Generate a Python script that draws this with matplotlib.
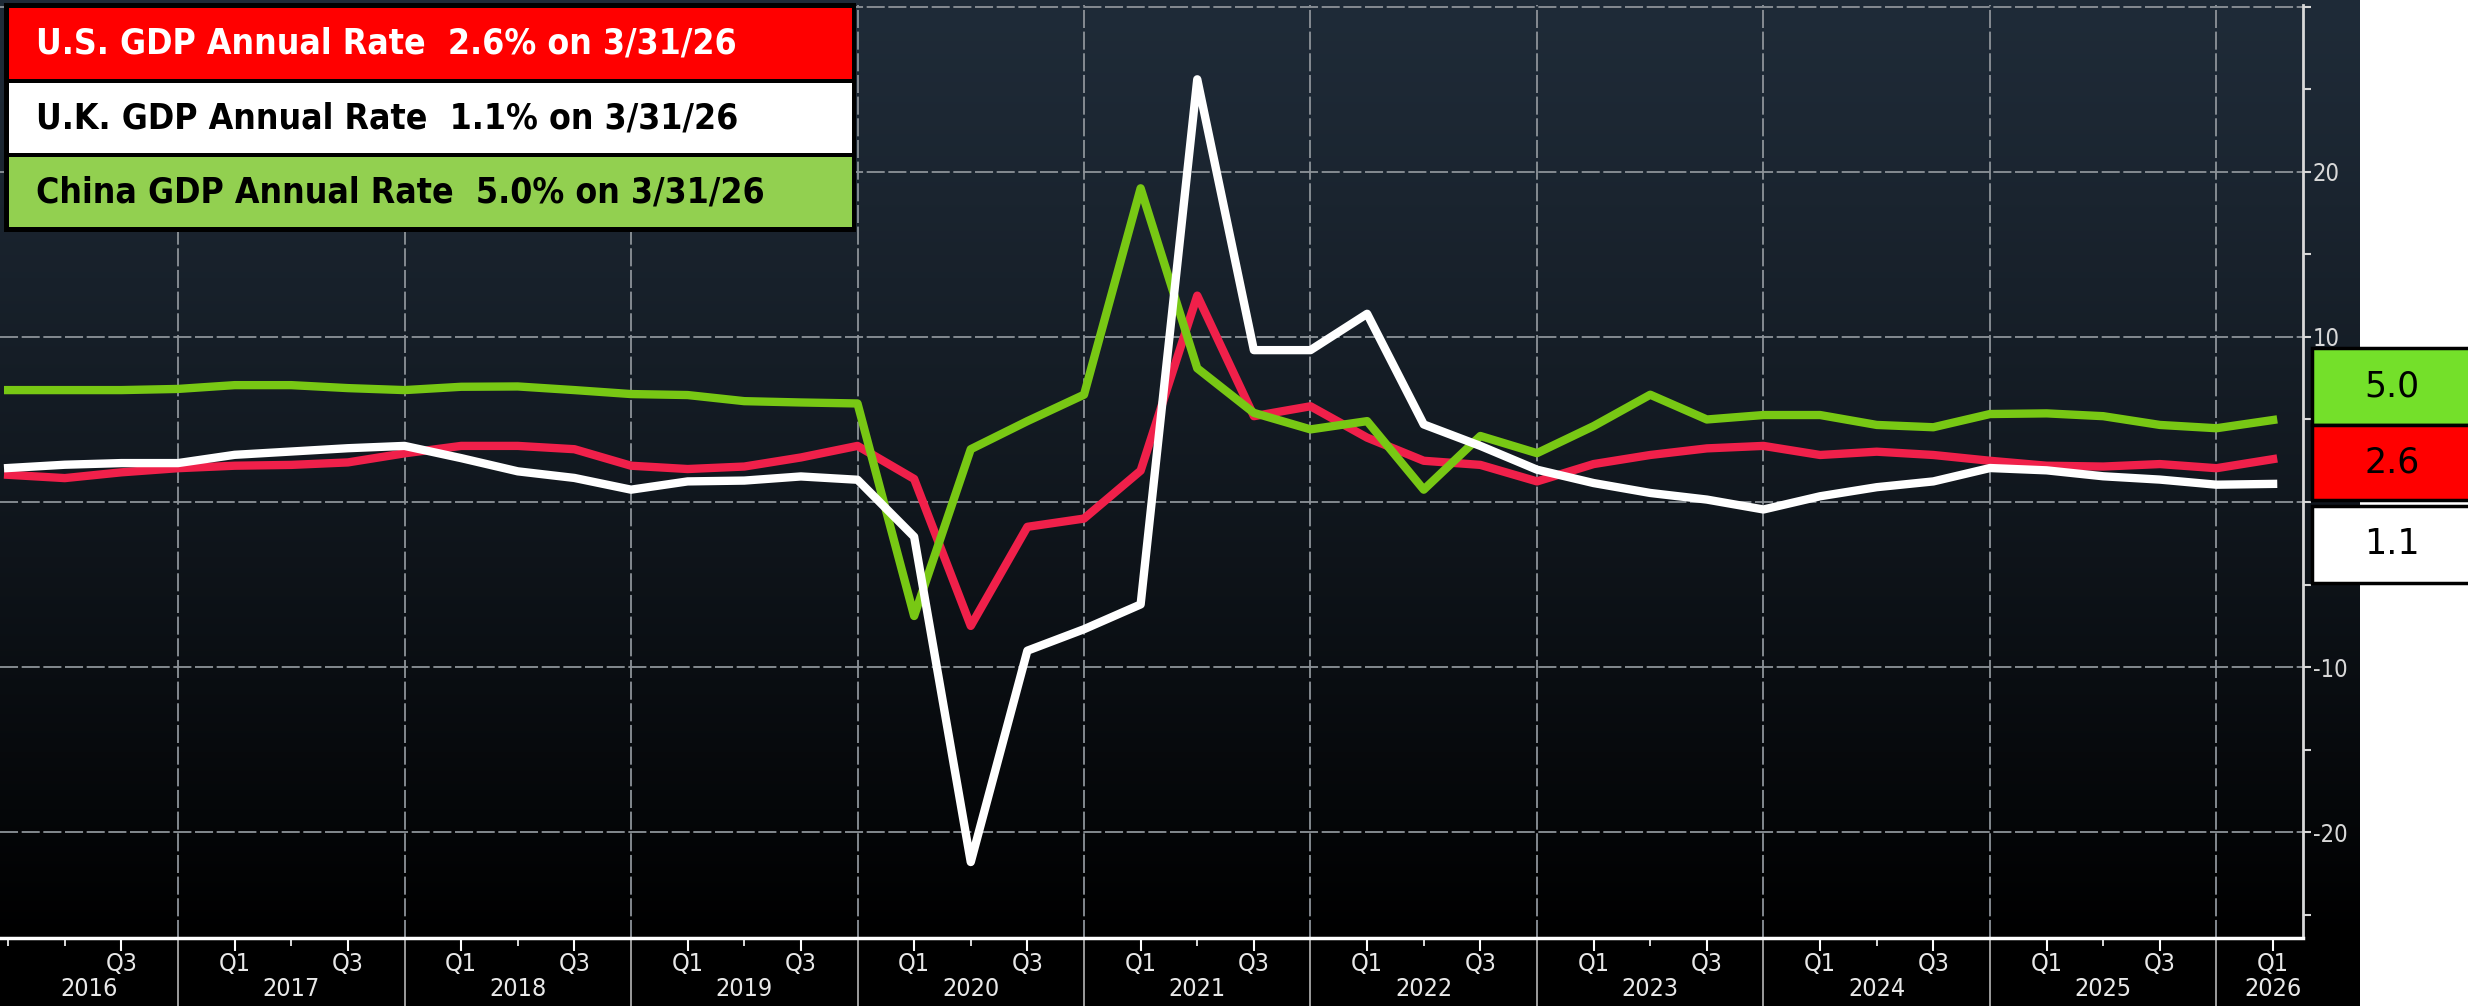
import matplotlib.pyplot as plt
import matplotlib.transforms as mtransforms
import numpy as np
from matplotlib import font_manager
from matplotlib.patches import Rectangle

# GDP, annual rate (%), quarterly from 2016 Q1 to 2026 Q1
years = list(range(2016, 2027))
quarters = [(y, q) for y in years for q in (1, 2, 3, 4)][:41]

us_gdp = [1.65, 1.45, 1.8, 2.05,
          2.2, 2.25, 2.4, 2.95,
          3.4, 3.4, 3.2, 2.2,
          2.0, 2.15, 2.7, 3.4,
          1.4, -7.5, -1.5, -1.0,
          1.9, 12.5, 5.2, 5.8,
          3.9, 2.5, 2.25, 1.25,
          2.3, 2.85, 3.25, 3.4,
          2.85, 3.05, 2.85, 2.5,
          2.2, 2.15, 2.3, 2.05,
          2.6]
uk_gdp = [2.06, 2.26, 2.36, 2.36,
          2.86, 3.06, 3.26, 3.4,
          2.66, 1.86, 1.46, 0.75,
          1.25, 1.3, 1.55, 1.35,
          -2.1, -21.8, -9.0, -7.7,
          -6.2, 25.6, 9.2, 9.2,
          11.4, 4.7, 3.4, 1.96,
          1.15, 0.55, 0.15, -0.45,
          0.35, 0.9, 1.25, 2.06,
          1.92, 1.56, 1.36, 1.05,
          1.1]
china_gdp = [6.78, 6.78, 6.78, 6.85,
             7.08, 7.08, 6.9, 6.78,
             6.98, 7.0, 6.78, 6.54,
             6.48, 6.11, 6.03, 5.97,
             -6.9, 3.2, 4.9, 6.5,
             19.0, 8.1, 5.4, 4.4,
             4.9, 0.75, 4.0, 2.96,
             4.6, 6.5, 5.0, 5.27,
             5.27, 4.67, 4.53, 5.33,
             5.37, 5.2, 4.67, 4.47,
             4.97]
as_of = "3/31/26"
y_ticks = [-20, -10, 0, 10, 20, 30]
y_tick_labels = ["-20", "-10", "", "10", "20", ""]

RED = "#f0204a"
GREEN = "#78c814"
plt.rcParams["axes.unicode_minus"] = False

# use the condensed DejaVu cut if the system has it
cond_path = font_manager.findfont(font_manager.FontProperties(
    family="DejaVu Sans", stretch="condensed", weight="bold"))
has_cond = "Condensed" in cond_path
legend_size = 25.5 if has_cond else 23
STRETCH = "condensed"

W, H = 2468, 1006


def fx(px):
    return px / W


def fy(py):
    return 1 - py / H


fig = plt.figure(figsize=(W / 100, H / 100), dpi=100)
fig.patch.set_facecolor("white")

# dark gradient background, black strip under the plot
bg = fig.add_axes([0, 0, fx(2360), 1])
t = np.linspace(0, 1, 938) ** 1.2
top = np.array([0x1f, 0x2b, 0x38]) / 255
grad = (1 - t)[:, None] * top[None, :]
img = np.vstack([grad, np.zeros((H - 938, 3))])[:, None, :]
bg.imshow(img, aspect="auto", extent=[0, 1, 0, 1])
bg.axis("off")

ax = fig.add_axes([0, fy(938), fx(2303), fy(5) - fy(938)])
ax.set_facecolor("none")

x = [y + q / 4 for (y, q) in quarters]
ax.plot(x, us_gdp, color=RED, lw=6, zorder=3)
ax.plot(x, china_gdp, color=GREEN, lw=6, zorder=4)
ax.plot(x, uk_gdp, color="white", lw=6, zorder=5)

ax.set_xlim(2016.214, 2026.382)
ax.set_ylim(-26.4, 30.1)

for s in ("left", "top"):
    ax.spines[s].set_visible(False)
ax.spines["right"].set_color("#d8d8d8")
ax.spines["right"].set_linewidth(2)
ax.spines["bottom"].set_color("white")
ax.spines["bottom"].set_linewidth(2.5)

# right-hand value axis
ax.yaxis.tick_right()
ax.set_yticks(y_ticks)
ax.set_yticklabels(y_tick_labels)
ax.set_yticks(np.arange(-25, 31, 5), minor=True)
ax.tick_params(axis="y", which="both", direction="out", length=6, width=1.5,
               color="#d8d8d8", labelcolor="#d8d8d8", labelsize=17, pad=1)
for lab in ax.get_yticklabels():
    lab.set_fontstretch(STRETCH)
ax.grid(True, axis="y", color="#8d9399", lw=1.3, linestyle=(0, (10, 2)))

# quarter ticks, Q1/Q3 labelled
q_major = []
q_labels = []
for y in years:
    for q in (1, 3):
        pos = y + q / 4
        if 2016.5 < pos < 2026.38:
            q_major.append(pos)
            q_labels.append(f"Q{q}")
q_minor = [y + 0.5 for y in years if y + 0.5 < 2026.38] + [2016.25]
ax.set_xticks(q_major)
ax.set_xticklabels(q_labels)
ax.set_xticks(q_minor, minor=True)
ax.tick_params(axis="x", which="major", direction="out", length=9, width=1.5,
               color="white", labelcolor="#e8e8e8", labelsize=18, pad=1)
ax.tick_params(axis="x", which="minor", direction="out", length=6, width=1.2,
               color="white")
for lab in ax.get_xticklabels():
    lab.set_fontstretch(STRETCH)

blend = mtransforms.blended_transform_factory(ax.transData, ax.transAxes)
for y in years[1:]:
    ax.axvline(y, color="#8d9399", lw=1.3, linestyle=(0, (10, 2)), zorder=1)
    ax.plot([y, y], [-0.08, 0], transform=blend, color="#a8a8a8", lw=1.3,
            clip_on=False)

# year labels centred in each visible year
for y in years:
    if y == 2016:
        xc = (ax.get_xlim()[0] + 2017) / 2
    elif y == 2026:
        xc = 2026.25
    else:
        xc = y + 0.5
    ax.text(xc, -0.055, str(y), transform=blend, ha="center", va="center",
            fontsize=18, color="#e8e8e8", fontstretch=STRETCH)

# legend panel at top left
fig.patches.append(Rectangle((fx(4), fy(232)), fx(852), fy(3) - fy(232),
                             transform=fig.transFigure, facecolor="black",
                             edgecolor="none", zorder=5))
rows = [
    (f"U.S. GDP Annual Rate  {us_gdp[-1]:.1f}% on {as_of}", "#ff0000", "white", 8, 79),
    (f"U.K. GDP Annual Rate  {uk_gdp[-1]:.1f}% on {as_of}", "white", "black", 83, 153),
    (f"China GDP Annual Rate  {china_gdp[-1]:.1f}% on {as_of}", "#92d050", "black", 157, 227),
]
for text, fc, tc, y0, y1 in rows:
    fig.patches.append(Rectangle((fx(9), fy(y1)), fx(843), fy(y0) - fy(y1),
                                 transform=fig.transFigure, facecolor=fc,
                                 edgecolor="none", zorder=6))
    fig.text(fx(36), fy((y0 + y1) / 2), text, ha="left", va="center",
             fontsize=legend_size, fontweight="bold", fontstretch=STRETCH,
             color=tc, zorder=7)

# last-value boxes on the right
boxes = [
    (f"{china_gdp[-1]:.1f}", "#74e02a", 348, 425),
    (f"{us_gdp[-1]:.1f}", "#ff0000", 425, 500),
    (f"{uk_gdp[-1]:.1f}", "white", 506, 583),
]
for text, fc, y0, y1 in boxes:
    fig.patches.append(Rectangle((fx(2312), fy(y1)), fx(2470 - 2312), fy(y0) - fy(y1),
                                 transform=fig.transFigure, facecolor=fc,
                                 edgecolor="black", lw=2.5, zorder=6))
    fig.text(fx(2392), fy((y0 + y1) / 2), text, ha="center", va="center",
             fontsize=25, color="black", zorder=7)

fig.savefig("out.png", dpi=100)
